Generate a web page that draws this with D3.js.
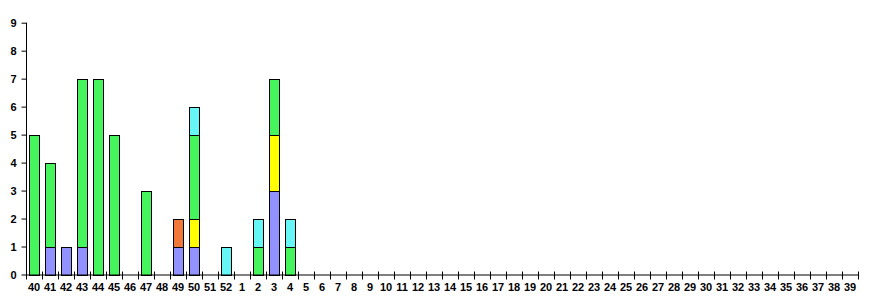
<!DOCTYPE html>
<html>
<head>
<meta charset="utf-8">
<script src="https://cdn.jsdelivr.net/npm/d3@7"></script>
<style>
  body { margin: 0; background: #fff; }
  .axis text { font-family: "Liberation Sans", Arial, sans-serif; font-weight: bold; font-size: 11px; fill: #000; }
</style>
</head>
<body>
<script>
var W = 870, H = 300;

// week numbers along the x axis
var weeks = [40,41,42,43,44,45,46,47,48,49,50,51,52,
  1,2,3,4,5,6,7,8,9,10,11,12,13,14,15,16,17,18,19,20,21,22,23,24,25,26,
  27,28,29,30,31,32,33,34,35,36,37,38,39];

// series values, one per week (zeros after week 4)
var purple = [0,1,1,1,0,0,0,0,0,1,1,0,0, 0,0,3,0];
var orange = [0,0,0,0,0,0,0,0,0,1,0,0,0, 0,0,0,0];
var yellow = [0,0,0,0,0,0,0,0,0,0,1,0,0, 0,0,2,0];
var green  = [5,3,0,6,7,5,0,3,0,0,3,0,0, 0,1,2,1];
var cyan   = [0,0,0,0,0,0,0,0,0,0,1,0,1, 0,1,0,1];

var seriesNames = ["purple", "orange", "yellow", "green", "cyan"];
var seriesColors = ["#9191ff", "#f07838", "#ffff00", "#46f55e", "#66f6f6"];
var yTicks = [0,1,2,3,4,5,6,7,8,9];

function main() {
  var rows = weeks.map(function(w, i) {
    return {
      week: w,
      purple: purple[i] || 0,
      orange: orange[i] || 0,
      yellow: yellow[i] || 0,
      green: green[i] || 0,
      cyan: cyan[i] || 0
    };
  });

  var left = 26, right = 858, top = 22.7, bottom = 274.5;

  var x = d3.scaleBand()
    .domain(weeks)
    .range([left, right])
    .paddingInner(0.4)
    .paddingOuter(0.2);

  var y = d3.scaleLinear()
    .domain([0, 9])
    .range([bottom, top]);

  var stack = d3.stack().keys(seriesNames);
  var layers = stack(rows);

  var svg = d3.select("body")
    .append("svg")
    .attr("width", W)
    .attr("height", H);

  svg.selectAll("g.layer")
    .data(layers)
    .enter()
    .append("g")
    .attr("class", "layer")
    .attr("fill", function(d, i) { return seriesColors[i]; })
    .selectAll("rect")
    .data(function(d) { return d.filter(function(p) { return p[1] > p[0]; }); })
    .enter()
    .append("rect")
    .attr("x", function(d) { return Math.round(x(d.data.week)) + 0.5; })
    .attr("y", function(d) { return Math.round(y(d[1])) + 0.5; })
    .attr("width", Math.round(x.bandwidth()))
    .attr("height", function(d) { return Math.round(y(d[0])) - Math.round(y(d[1])); })
    .attr("stroke", "#000")
    .attr("stroke-width", 1);

  // y axis
  var yAxis = svg.append("g")
    .attr("class", "axis")
    .attr("transform", "translate(" + (left + 0.5) + ",0)")
    .call(d3.axisLeft(y).tickValues(yTicks).tickSize(5).tickPadding(5).tickFormat(d3.format("d")));
  yAxis.select(".domain").attr("d", "M0," + top + "V" + bottom);

  // x axis: ticks at band edges, labels at band centres
  var edges = weeks.map(function(w, i) { return left + i * (right - left) / weeks.length; });
  edges.push(right);

  var xg = svg.append("g").attr("class", "axis");
  xg.append("line")
    .attr("x1", left).attr("x2", right)
    .attr("y1", bottom + 0.5).attr("y2", bottom + 0.5)
    .attr("stroke", "#000");
  xg.selectAll("line.tick")
    .data(edges)
    .enter()
    .append("line")
    .attr("class", "tick")
    .attr("x1", function(d) { return Math.round(d) + 0.5; })
    .attr("x2", function(d) { return Math.round(d) + 0.5; })
    .attr("y1", bottom - 3)
    .attr("y2", bottom + 5)
    .attr("stroke", "#000");
  xg.selectAll("text")
    .data(weeks)
    .enter()
    .append("text")
    .attr("x", function(d) { return x(d) + x.bandwidth() / 2; })
    .attr("y", bottom + 16)
    .attr("text-anchor", "middle")
    .text(function(d) { return d; });
}
main();
</script>
</body>
</html>
